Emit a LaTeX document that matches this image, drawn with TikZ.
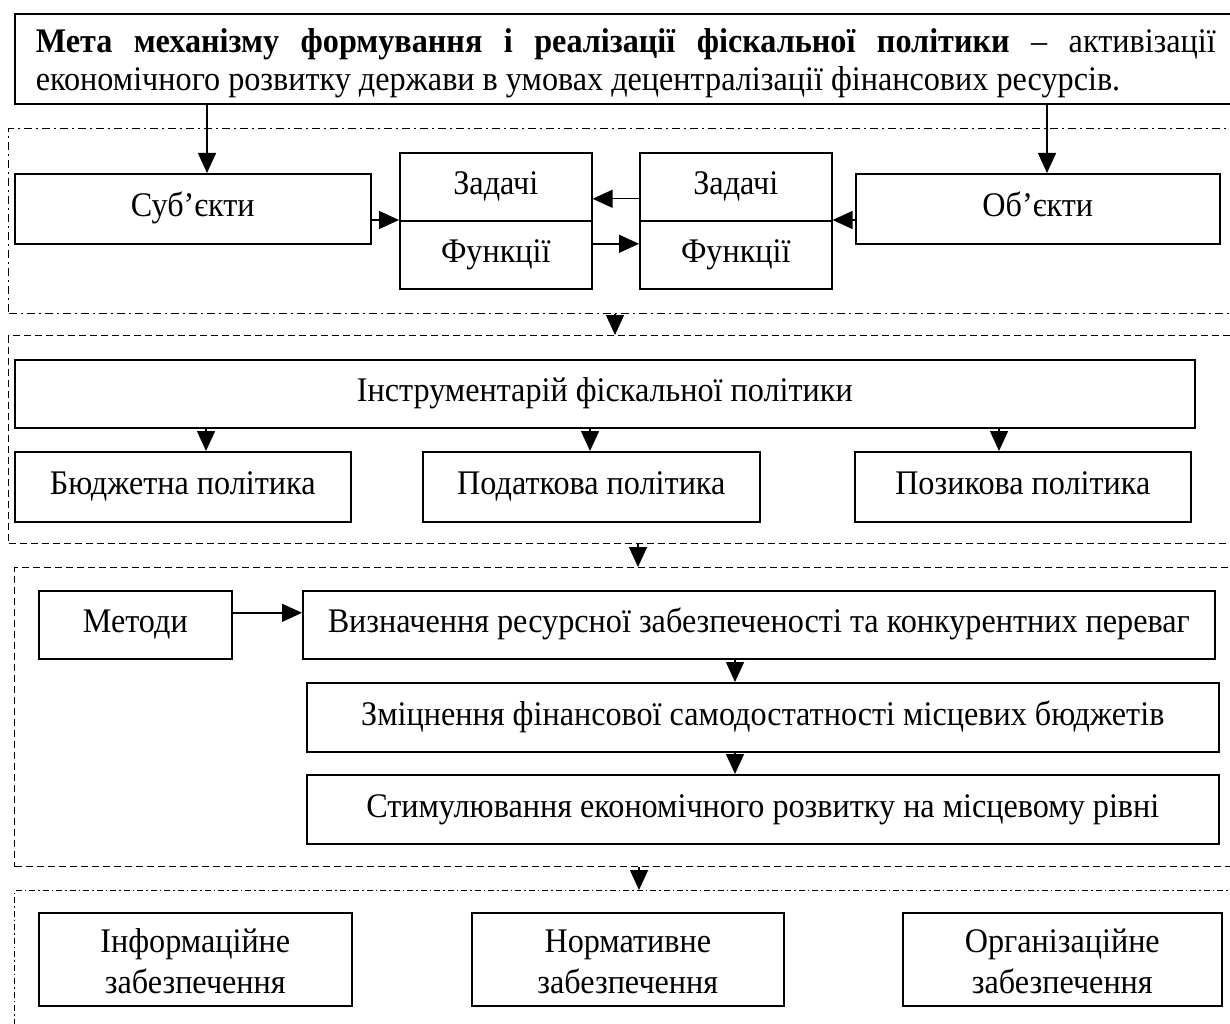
\documentclass[tikz,border=0pt]{standalone}
\usepackage{fontspec}
\setmainfont{Liberation Serif}[FakeStretch=0.933]
\usetikzlibrary{arrows.meta}
\newcommand\firststrut{\rule{0pt}{27pt}}
\begin{document}
\begin{tikzpicture}[x=1pt,y=-1pt,
  box/.style={draw, line width=1.6pt, inner sep=0pt, anchor=north west, align=center, font=\fontsize{34.5}{35}\selectfont},
  oneline/.style={box, text height=24pt, text depth=8pt},
  twoline/.style={box, font=\fontsize{34.5}{41}\selectfont},
  arr/.style={line width=1.4pt, -{Triangle[length=20pt,width=18pt]}},
  dashframe/.style={draw, line width=1.3pt, dash pattern=on 7pt off 4pt, inner sep=0pt, anchor=north west},
  dotframe/.style={draw, line width=1.3pt, dash pattern=on 8pt off 4pt on 2pt off 4pt, inner sep=0pt, anchor=north west},
  dotframeb/.style={draw, line width=1.2pt, dash pattern=on 6pt off 3pt on 1.5pt off 3pt, inner sep=0pt, anchor=north west},
]
\useasboundingbox (0,0) rectangle (1230,1024);
\clip (0,0) rectangle (1230,1024);

% frames
\node[dotframe, minimum width=1260pt, minimum height=185pt] (f1) at (8,128) {};
\node[dashframe, minimum width=1260pt, minimum height=208pt] (f2) at (8,335) {};
\node[dashframe, minimum width=1260pt, minimum height=299pt] (f3) at (14,567) {};
\node[dotframeb, minimum width=1260pt, minimum height=160pt] (f4) at (14,890) {};

% top box
\node[box, minimum width=1222pt, minimum height=90pt, text width=1180pt, align=justify,
      font=\fontsize{34.5}{38}\selectfont] (top) at (14,13)
 {\rule{0pt}{32pt}{\bfseries Мета механізму формування і реалізації фіскальної політики} – активізації\linebreak економічного розвитку держави в умовах децентралізації фінансових ресурсів.};

% section 1
\node[oneline, minimum width=356pt, minimum height=70pt] (sub) at (14,173) {Суб’єкти};
\node[oneline, minimum width=192pt, minimum height=68pt] (zad1) at (399,152) {Задачі};
\node[oneline, minimum width=192pt, minimum height=68pt] (fun1) at (399,220) {Функції};
\node[oneline, minimum width=192pt, minimum height=68pt] (zad2) at (639,152) {Задачі};
\node[oneline, minimum width=192pt, minimum height=68pt] (fun2) at (639,220) {Функції};
\node[oneline, minimum width=364pt, minimum height=70pt] (obj) at (855,173) {Об’єкти};

% section 2
\node[oneline, minimum width=1180pt, minimum height=68pt] (instr) at (14,359) {Інструментарій фіскальної політики};
\node[oneline, minimum width=336pt, minimum height=70pt] (bud) at (14,451) {Бюджетна політика};
\node[oneline, minimum width=337pt, minimum height=70pt] (pod) at (422,451) {Податкова політика};
\node[oneline, minimum width=336pt, minimum height=70pt] (poz) at (854,451) {Позикова політика};

% section 3
\node[oneline, minimum width=193pt, minimum height=68pt] (met) at (38,590) {Методи};
\node[oneline, minimum width=912pt, minimum height=68pt] (viz) at (302,590) {Визначення ресурсної забезпеченості та конкурентних переваг};
\node[oneline, minimum width=912pt, minimum height=69pt] (zmi) at (306,682) {Зміцнення фінансової самодостатності місцевих бюджетів};
\node[oneline, minimum width=912pt, minimum height=69pt] (sti) at (306,774) {Стимулювання економічного розвитку на місцевому рівні};

% section 4
\node[twoline, minimum width=313pt, minimum height=93pt] (inf) at (38,912) {\firststrut Інформаційне\\забезпечення};
\node[twoline, minimum width=312pt, minimum height=93pt] (nor) at (471,912) {\firststrut Нормативне\\забезпечення};
\node[twoline, minimum width=319pt, minimum height=93pt] (org) at (902,912) {\firststrut Організаційне\\забезпечення};

% helper coordinates for connector x positions
\coordinate (xs) at (207,0);
\coordinate (xo) at (1047,0);
\coordinate (x12) at (615,0);
\coordinate (x23) at (638,0);
\coordinate (x34) at (639,0);
\coordinate (xb) at (206,0);
\coordinate (xp) at (590,0);
\coordinate (xz) at (999,0);
\coordinate (xv) at (735,0);

% connectors
\draw[arr] (top.south -| xs) -- (sub.north -| xs);
\draw[arr] (top.south -| xo) -- (obj.north -| xo);
\draw[arr] (sub.east |- fun1.north west) -- (fun1.north west);
\draw[arr] (obj.west |- fun2.north east) -- (fun2.north east);
\draw[arr] ([yshift=-12pt]zad2.west) -- ([yshift=-12pt]zad1.east);
\draw[arr] ([yshift=11pt]fun1.east) -- ([yshift=11pt]fun2.west);

\draw[arr] (f1.south -| x12) -- (f2.north -| x12);
\draw[arr] (instr.south -| xb) -- (bud.north -| xb);
\draw[arr] (instr.south -| xp) -- (pod.north -| xp);
\draw[arr] (instr.south -| xz) -- (poz.north -| xz);

\draw[arr] (f2.south -| x23) -- (f3.north -| x23);
\draw[arr] ([yshift=12pt]met.east) -- ([yshift=12pt]viz.west);
\draw[arr] (viz.south -| xv) -- (zmi.north -| xv);
\draw[arr] (zmi.south -| xv) -- (sti.north -| xv);

\draw[arr] (f3.south -| x34) -- (f4.north -| x34);
\end{tikzpicture}
\end{document}
